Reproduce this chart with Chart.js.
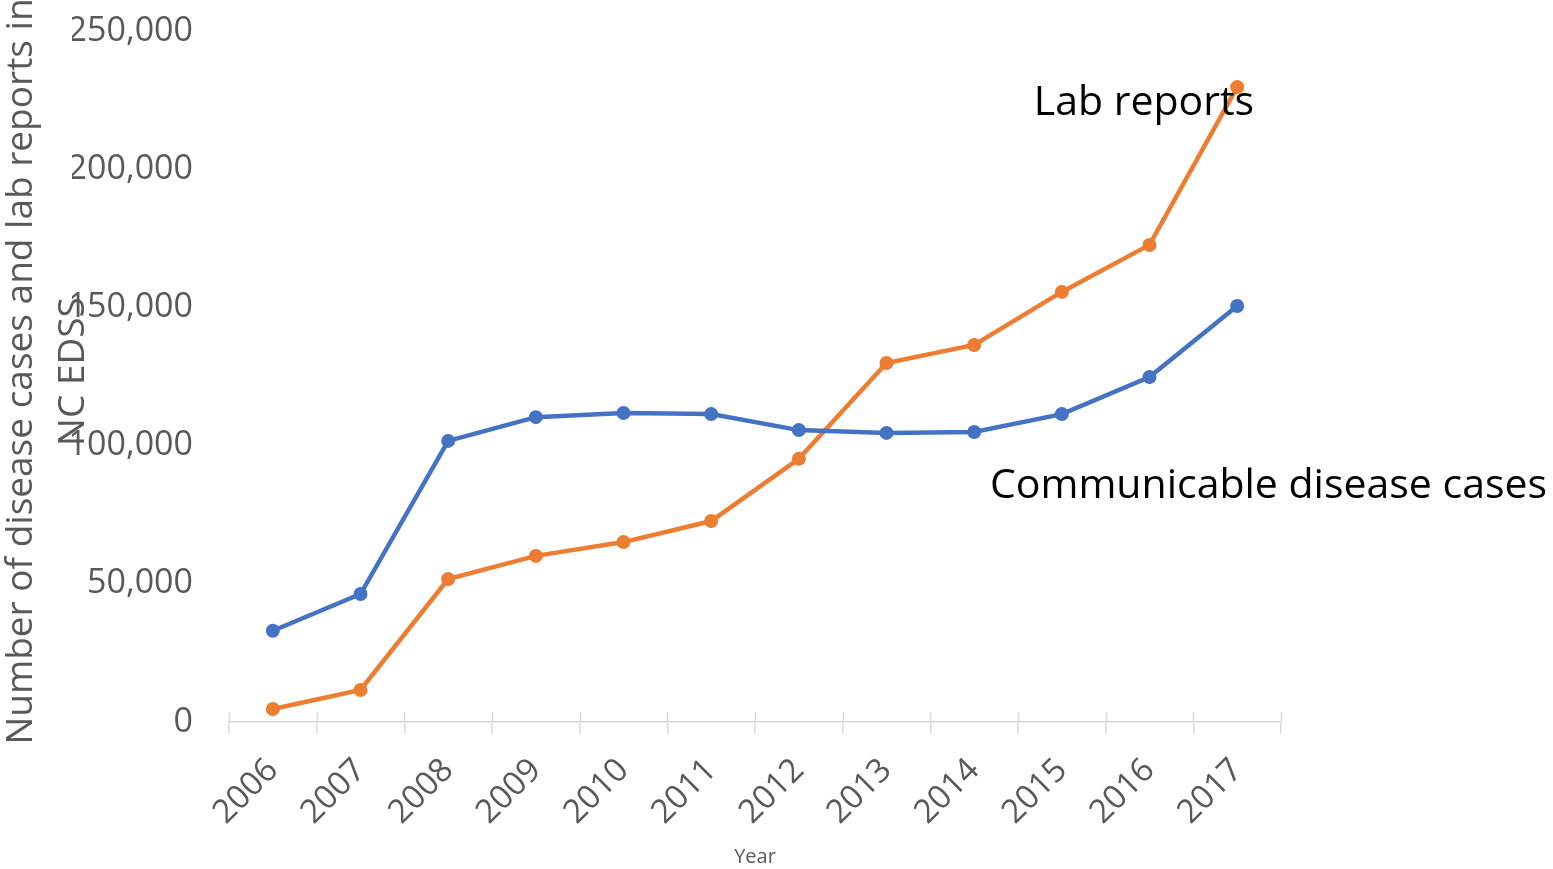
<!DOCTYPE html>
<html>
<head>
<meta charset="utf-8">
<script src="https://cdn.jsdelivr.net/npm/chart.js@4.4.1/dist/chart.umd.min.js"></script>
<style>
  html, body { margin: 0; padding: 0; background: #fff; }
  #wrap { width: 1553px; height: 869px; position: relative; }
</style>
</head>
<body>
<div id="wrap"><canvas id="chart"></canvas></div>
<script>
// years on the x axis
const years = ['2006', '2007', '2008', '2009', '2010', '2011', '2012', '2013', '2014', '2015', '2016', '2017'];
// communicable disease cases (blue)
const diseaseCases = [33000, 46300, 101700, 110300, 111800, 111400, 105600, 104600, 104900, 111400, 124800, 150500];
// lab reports (orange)
const labReports = [4700, 11600, 51700, 60100, 65100, 72700, 95200, 129900, 136400, 155600, 172600, 229700];
const yTicks = [0, 50000, 100000, 150000, 200000, 250000];
const yTitle = ['Number of disease cases and lab reports in', 'NC EDSS'];

const GREY = '#595959';
const FONT = "'Open Sans', 'DejaVu Sans', sans-serif";

// y title drawn by hand so the second line can sit over the tick labels like the original
const titlePlugin = {
  id: 'yTitle',
  afterDraw(chart) {
    const ctx = chart.ctx, a = chart.chartArea;
    const midY = (a.top + a.bottom) / 2 - 5;
    ctx.save();
    ctx.fillStyle = GREY;
    ctx.font = '37px ' + FONT;
    ctx.textAlign = 'center';
    ctx.textBaseline = 'middle';
    [21, 73].forEach((x, i) => {
      ctx.save();
      ctx.translate(x, midY);
      ctx.rotate(-Math.PI / 2);
      ctx.fillText(yTitle[i], 0, 0);
      ctx.restore();
    });
    ctx.restore();
  }
};

// tick marks on the category axis cross the axis line
const crossTicks = {
  id: 'crossTicks',
  afterDraw(chart) {
    const ctx = chart.ctx, xs = chart.scales.x, a = chart.chartArea;
    const step = xs.getPixelForValue(1) - xs.getPixelForValue(0);
    ctx.save();
    ctx.strokeStyle = '#d9d9d9';
    ctx.lineWidth = 1.5;
    for (let i = 0; i <= years.length; i++) {
      const px = Math.round(xs.getPixelForValue(0) - step / 2 + i * step) + 0.5;
      ctx.beginPath();
      ctx.moveTo(px, a.bottom - 10);
      ctx.lineTo(px, a.bottom);
      ctx.stroke();
    }
    ctx.restore();
  }
};

// series labels placed in data space
const seriesLabels = {
  id: 'seriesLabels',
  afterDatasetsDraw(chart) {
    const ctx = chart.ctx, xs = chart.scales.x, ys = chart.scales.y;
    ctx.save();
    ctx.fillStyle = '#000';
    ctx.font = '41px ' + FONT;
    ctx.textAlign = 'left';
    ctx.textBaseline = 'alphabetic';
    ctx.fillText('Lab reports', xs.getPixelForValue(8.68), ys.getPixelForValue(219600));
    ctx.fillText('Communicable disease cases', xs.getPixelForValue(8.18), ys.getPixelForValue(81000));
    ctx.restore();
  }
};

new Chart(document.getElementById('chart'), {
  type: 'line',
  data: {
    labels: years,
    datasets: [
      {
        label: 'Communicable disease cases',
        data: diseaseCases,
        borderColor: '#4472C4',
        backgroundColor: '#4472C4',
        borderWidth: 4.5,
        pointRadius: 7,
        pointBorderWidth: 0,
        tension: 0
      },
      {
        label: 'Lab reports',
        data: labReports,
        borderColor: '#ED7D31',
        backgroundColor: '#ED7D31',
        borderWidth: 4.5,
        pointRadius: 7,
        pointBorderWidth: 0,
        tension: 0
      }
    ]
  },
  options: {
    responsive: true,
    maintainAspectRatio: false,
    animation: false,
    layout: { padding: { left: 72, right: 272, top: 31, bottom: 0 } },
    plugins: {
      legend: { display: false },
      tooltip: { enabled: false }
    },
    scales: {
      x: {
        offset: true,
        grid: {
          display: true,
          drawOnChartArea: false,
          drawTicks: true,
          tickLength: 12,
          color: '#d9d9d9',
          lineWidth: 1.5,
          offset: true
        },
        border: { display: true, color: '#d9d9d9', width: 1.5 },
        ticks: {
          color: GREY,
          font: { family: FONT, size: 33 },
          maxRotation: 45,
          minRotation: 45,
          padding: 17,
          autoSkip: false
        },
        title: {
          display: true,
          text: 'Year',
          color: GREY,
          font: { family: FONT, size: 20 },
          padding: { top: 0, bottom: 0 }
        },
        afterFit(scale) { scale.height = 147; }
      },
      y: {
        min: 0,
        max: 250000,
        afterBuildTicks(scale) { scale.ticks = yTicks.map(v => ({ value: v })); },
        grid: { display: false, drawTicks: false },
        border: { display: false },
        ticks: {
          color: GREY,
          font: { family: FONT, size: 34 },
          padding: 36,
          callback: v => v.toLocaleString('en-US')
        },
        afterFit(scale) {
          scale.width = 157;
          scale.paddingTop = 0;
          scale.paddingBottom = 0;
        }
      }
    }
  },
  plugins: [titlePlugin, crossTicks, seriesLabels]
});
</script>
</body>
</html>
